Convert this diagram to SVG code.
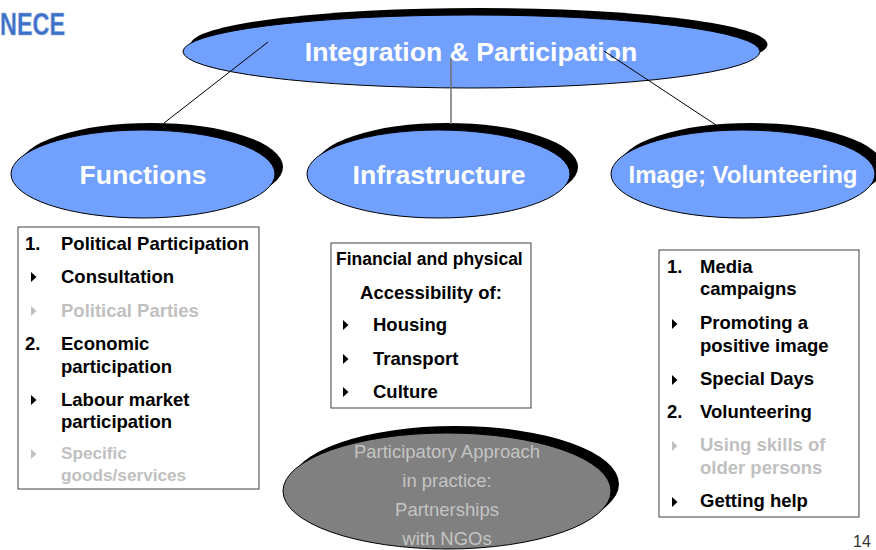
<svg xmlns="http://www.w3.org/2000/svg" xmlns:xlink="http://www.w3.org/1999/xlink" width="876" height="550" viewBox="0 0 876 550">
  <style>
    .bg { fill: #ffffff; }
    .shadow { fill: #000000; }
    .blue { fill: #72a0ff; stroke: #000000; stroke-width: 1; }
    .grey { fill: #808080; stroke: #000000; stroke-width: 1; }
    .title { font-family: "Liberation Sans", Arial, sans-serif; font-weight: bold; fill: #ffffff; text-anchor: middle; }
    .box { fill: #ffffff; stroke: #404040; stroke-width: 1; }
    .t { font-family: "Liberation Sans", Arial, sans-serif; font-weight: bold; font-size: 18.5px; fill: #000000; }
    .sm { font-size: 17.2px; }
    .xs { font-size: 17.5px; }
    .dim { fill: #c0c0c0; }
    .np { font-family: "Liberation Sans", Arial, sans-serif; font-size: 18.5px; fill: #c4c4c4; text-anchor: middle; }
    .conn { stroke: #000000; stroke-width: 1; fill: none; }
    .conn2 { stroke: #707070; stroke-width: 1.5; fill: none; }
  </style>
  <defs>
    <path id="tri" d="M0,-5 L5.5,0 L0,5 Z"/>
  </defs>
  <rect class="bg" x="0" y="0" width="876" height="550"/>

  <g id="logo">
    <text x="0" y="35" textLength="65" lengthAdjust="spacingAndGlyphs" font-family="'Liberation Sans', Arial, sans-serif" font-weight="bold" font-size="30.5" fill="#3d6fc4" stroke="#8fb0e8" stroke-width="0.6">NECE</text>
  </g>

  <g id="node-integration">
    <ellipse class="shadow" cx="479" cy="44.5" rx="288.5" ry="36.5"/>
    <ellipse class="blue" cx="471.5" cy="51.5" rx="288.5" ry="36.5"/>
    <text class="title" x="471" y="61" font-size="26.6">Integration &amp; Participation</text>
  </g>

  <g id="node-functions">
    <ellipse class="shadow" cx="151" cy="167" rx="132" ry="44"/>
    <ellipse class="blue" cx="143" cy="174" rx="132" ry="44"/>
    <text class="title" x="143" y="184" font-size="26.6">Functions</text>
  </g>

  <g id="node-infrastructure">
    <ellipse class="shadow" cx="446.5" cy="167" rx="131.5" ry="44"/>
    <ellipse class="blue" cx="438.5" cy="174" rx="131.5" ry="44"/>
    <text class="title" x="439" y="184" font-size="26.6">Infrastructure</text>
  </g>

  <g id="node-image">
    <ellipse class="shadow" cx="751" cy="167" rx="132" ry="44"/>
    <ellipse class="blue" cx="743" cy="174" rx="132" ry="44"/>
    <text class="title" x="743" y="183" font-size="24">Image; Volunteering</text>
  </g>

  <g id="connectors">
    <line class="conn" x1="268" y1="42" x2="164" y2="123"/>
    <line class="conn2" x1="451" y1="58" x2="451" y2="124"/>
    <line class="conn" x1="604" y1="51" x2="716" y2="125"/>
  </g>

  <g id="box-functions">
    <rect class="box" x="18" y="227" width="241" height="262"/>
    <text class="t" x="25" y="250">1.</text>
    <text class="t" x="61" y="250">Political Participation</text>
    <use xlink:href="#tri" x="31" y="277"/>
    <text class="t" x="61" y="283">Consultation</text>
    <use xlink:href="#tri" x="31" y="311" class="dim"/>
    <text class="t dim" x="61" y="317">Political Parties</text>
    <text class="t" x="25" y="350">2.</text>
    <text class="t" x="61" y="350">Economic</text>
    <text class="t" x="61" y="373">participation</text>
    <use xlink:href="#tri" x="31" y="400"/>
    <text class="t" x="61" y="406">Labour market</text>
    <text class="t" x="61" y="428">participation</text>
    <use xlink:href="#tri" x="31" y="454" class="dim"/>
    <text class="t sm dim" x="61" y="459">Specific</text>
    <text class="t sm dim" x="61" y="481">goods/services</text>
  </g>

  <g id="box-infrastructure">
    <rect class="box" x="331" y="243" width="200" height="165"/>
    <text class="t xs" x="336" y="265">Financial and physical</text>
    <text class="t" x="431" y="299" text-anchor="middle">Accessibility of:</text>
    <use xlink:href="#tri" x="343" y="325"/>
    <text class="t" x="373" y="331">Housing</text>
    <use xlink:href="#tri" x="343" y="359"/>
    <text class="t" x="373" y="365">Transport</text>
    <use xlink:href="#tri" x="343" y="392"/>
    <text class="t" x="373" y="398">Culture</text>
  </g>

  <g id="box-image">
    <rect class="box" x="659" y="250" width="200" height="267"/>
    <text class="t" x="667" y="273">1.</text>
    <text class="t" x="700" y="273">Media</text>
    <text class="t" x="700" y="295">campaigns</text>
    <use xlink:href="#tri" x="672" y="324"/>
    <text class="t" x="700" y="329">Promoting a</text>
    <text class="t" x="700" y="352">positive image</text>
    <use xlink:href="#tri" x="672" y="380"/>
    <text class="t" x="700" y="385">Special Days</text>
    <text class="t" x="667" y="418">2.</text>
    <text class="t" x="700" y="418">Volunteering</text>
    <use xlink:href="#tri" x="672" y="446" class="dim"/>
    <text class="t dim" x="700" y="451">Using skills of</text>
    <text class="t dim" x="700" y="474">older persons</text>
    <use xlink:href="#tri" x="672" y="502"/>
    <text class="t" x="700" y="507">Getting help</text>
  </g>

  <g id="node-participatory">
    <ellipse class="shadow" cx="455" cy="484" rx="164" ry="58"/>
    <ellipse class="grey" cx="447" cy="491" rx="164" ry="58"/>
    <text class="np" x="447" y="458">Participatory Approach</text>
    <text class="np" x="447" y="487">in practice:</text>
    <text class="np" x="447" y="516">Partnerships</text>
    <text class="np" x="447" y="545">with NGOs</text>
  </g>

  <text x="853" y="547" font-family="'Liberation Sans', Arial, sans-serif" font-size="16" fill="#333333">14</text>
</svg>
